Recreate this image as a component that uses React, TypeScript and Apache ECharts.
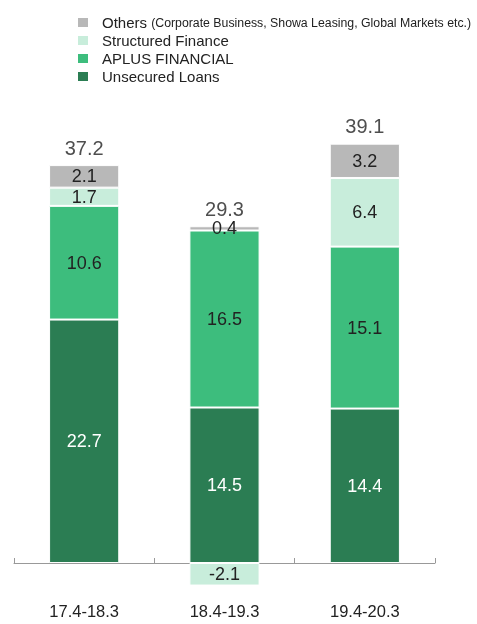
import React, { useEffect, useRef } from "react";
import * as echarts from "echarts";

const categories = ["17.4-18.3", "18.4-19.3", "19.4-20.3"];
const unsecuredLoans = [22.7, 14.5, 14.4];
const aplusFinancial = [10.6, 16.5, 15.1];
const structuredFinance = [1.7, -2.1, 6.4];
const others = [2.1, 0.4, 3.2];
const totals = [37.2, 29.3, 39.1];

const seriesDefs = [
  { name: "Unsecured Loans", data: unsecuredLoans, color: "#2b7d53", labelColor: "#ffffff" },
  { name: "APLUS FINANCIAL", data: aplusFinancial, color: "#3dbd7d", labelColor: "#222222" },
  { name: "Structured Finance", data: structuredFinance, color: "#c8eddb", labelColor: "#222222" },
  { name: "Others", data: others, color: "#b8b8b8", labelColor: "#222222" },
];

export default function App() {
  const ref = useRef<HTMLDivElement>(null);
  useEffect(() => {
    if (!ref.current) return;
    const chart = echarts.init(ref.current, null, { renderer: "svg" });
    const positiveTops = categories.map((_, i) =>
      seriesDefs.reduce((s, d) => s + (d.data[i] > 0 ? d.data[i] : 0), 0)
    );
    const font = "'Liberation Sans', Arial, sans-serif";
    chart.setOption({
      animation: false,
      textStyle: { fontFamily: font },
      legend: {
        orient: "vertical",
        left: 76,
        top: 15,
        padding: 0,
        itemWidth: 12,
        itemHeight: 11,
        itemGap: 3,
        icon: "rect",
        data: ["Others", "Structured Finance", "APLUS FINANCIAL", "Unsecured Loans"],
        textStyle: {
          fontSize: 15,
          color: "#222",
          fontFamily: font,
          padding: [0, 0, 0, 8],
          rich: {
            big: { fontSize: 15, color: "#222", fontFamily: font },
            small: { fontSize: 12.3, color: "#222", fontFamily: font },
          },
        },
        formatter: (name: string) =>
          name === "Others"
            ? "{big|Others} {small|(Corporate Business, Showa Leasing, Global Markets etc.)}"
            : "{big|" + name + "}",
      },
      grid: {
        left: 14,
        right: 42,
        top: 134,
        bottom: 28.8,
        containLabel: false,
        outerBoundsMode: "none",
      },
      xAxis: [
        {
          type: "category",
          data: categories,
          axisLine: { onZero: true, lineStyle: { color: "#999", width: 1 } },
          axisTick: { show: true, inside: true, length: 5, lineStyle: { color: "#999" } },
          axisLabel: { show: false },
        },
        {
          type: "category",
          data: categories,
          position: "bottom",
          axisLine: { show: false, onZero: false },
          axisTick: { show: false },
          axisLabel: { margin: 7, fontSize: 16.5, color: "#222", fontFamily: font },
        },
      ],
      yAxis: {
        type: "value",
        min: -3,
        max: 40,
        show: false,
        splitLine: { show: false },
      },
      series: [
        ...seriesDefs.map((d) => ({
          name: d.name,
          type: "bar",
          stack: "total",
          barWidth: "50%",
          xAxisIndex: 0,
          data: d.data,
          itemStyle: { color: d.color, borderColor: "#ffffff", borderWidth: 1 },
          label: {
            show: true,
            position: "inside",
            color: d.labelColor,
            fontSize: 18,
            fontFamily: font,
            formatter: (p: any) => Number(p.value).toFixed(1),
          },
        })),
        {
          name: "Total",
          type: "scatter",
          xAxisIndex: 0,
          data: positiveTops,
          symbolSize: 1,
          itemStyle: { color: "rgba(0,0,0,0)" },
          silent: true,
          label: {
            show: true,
            position: "top",
            distance: 7,
            fontSize: 20,
            color: "#222",
            fontFamily: font,
            formatter: (p: any) => totals[p.dataIndex].toFixed(1),
          },
        },
      ],
    });
    return () => chart.dispose();
  }, []);
  return (
    <div
      ref={ref}
      style={{ position: "fixed", left: 0, top: 0, width: 477, height: 624 }}
    />
  );
}
